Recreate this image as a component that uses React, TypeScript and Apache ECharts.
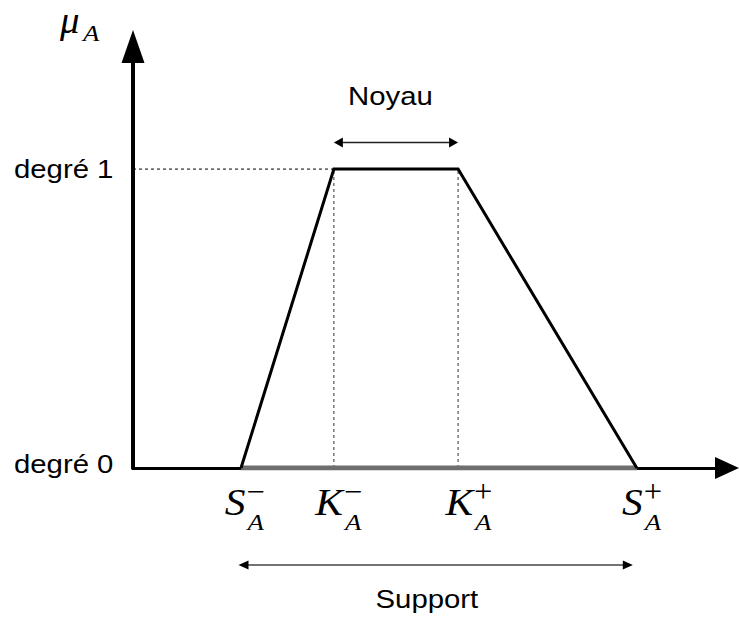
import React, { useEffect, useRef } from 'react';
import * as echarts from 'echarts';

// ---- data ----
const pointNames = ['S', 'K', 'K', 'S'];
const pointSigns = ['−', '−', '+', '+'];
const pointSub = 'A';
const xValues = [2.0, 3.72, 6.02, 9.33];
const yValues = [0, 1, 1, 0];
const xAxisMax = 11;
const yAxisMax = 1.41;
const yTickValues = [0, 1];
const yTickLabels = ['degré 0', 'degré 1'];
const axisTitleMain = 'μ';
const axisTitleSub = 'A';
const coreLabel = 'Noyau';
const supportLabel = 'Support';

// ---- layout / style ----
const W = 739;
const H = 619;
const SANS = "'Liberation Sans', Arial, sans-serif";
const SERIF = "'Liberation Serif', 'Times New Roman', serif";
const SANS_SIZE = 25.5;
const SANS_SCALE = 1.15;
const MATH_SIZE = 37;
const SCRIPT_SIZE = 24;
const SIGN_SIZE = 31;
const MATH_SCALE = 1.12;
const labelDx = [4.5, 9, 15, 6];
const yLabelDy = [-4, 0.5];

function textEl(
  x: number,
  y: number,
  text: string,
  opts: { size: number; family: string; italic?: boolean; align: string; scale: number }
) {
  return {
    type: 'text',
    x,
    y,
    scaleX: opts.scale,
    silent: true,
    style: {
      text,
      fontSize: opts.size,
      fontFamily: opts.family,
      fontStyle: opts.italic ? 'italic' : 'normal',
      fill: '#000',
      align: opts.align,
      textAlign: opts.align,
      verticalAlign: 'middle',
      textVerticalAlign: 'middle',
    },
  };
}

function arrowHead(tipX: number, y: number, dir: number, len: number, half: number) {
  return {
    type: 'polygon',
    silent: true,
    shape: {
      points: [
        [tipX, y],
        [tipX - dir * len, y - half],
        [tipX - dir * len, y + half],
      ],
    },
    style: { fill: '#000' },
  };
}

export default function App() {
  const ref = useRef<HTMLDivElement>(null);

  useEffect(() => {
    if (!ref.current) return;
    const chart = echarts.init(ref.current, null, { renderer: 'svg', width: W, height: H });

    const trapezoid = xValues.map((x, i) => [x, yValues[i]]);

    chart.setOption({
      animation: false,
      backgroundColor: '#fff',
      grid: { left: 133, right: 12, top: 46.5, bottom: 151, containLabel: false },
      xAxis: {
        type: 'value',
        min: 0,
        max: xAxisMax,
        axisLine: {
          show: true,
          onZero: true,
          symbol: ['none', 'triangle'],
          symbolSize: [22, 24],
          lineStyle: { color: '#000', width: 3 },
        },
        axisTick: { show: false },
        axisLabel: { show: false },
        splitLine: { show: false },
      },
      yAxis: {
        type: 'value',
        min: 0,
        max: yAxisMax,
        axisLine: {
          show: true,
          symbol: ['none', 'triangle'],
          symbolSize: [23, 33],
          lineStyle: { color: '#000', width: 4 },
        },
        axisTick: { show: false },
        axisLabel: { show: false },
        splitLine: { show: false },
      },
      series: [
        {
          type: 'line',
          data: [[0, 1], [xValues[1], 1]],
          symbol: 'none',
          z: 1,
          lineStyle: { color: '#000', width: 1, type: [3, 3] },
        },
        {
          type: 'line',
          data: [[xValues[1], 0], [xValues[1], 1]],
          symbol: 'none',
          z: 1,
          lineStyle: { color: '#333', width: 1, type: [3, 3] },
        },
        {
          type: 'line',
          data: [[xValues[2], 0], [xValues[2], 1]],
          symbol: 'none',
          z: 1,
          lineStyle: { color: '#333', width: 1, type: [3, 3] },
        },
        {
          type: 'line',
          data: [[xValues[0], 0], [xValues[3], 0]],
          symbol: 'none',
          z: 2,
          lineStyle: { color: '#6e6e6e', width: 5, cap: 'butt' },
        },
        {
          type: 'line',
          data: trapezoid,
          symbol: 'none',
          z: 3,
          lineStyle: { color: '#000', width: 3, join: 'miter' },
        },
      ],
    });

    const px = (x: number, y: number) =>
      chart.convertToPixel({ gridIndex: 0 }, [x, y]) as number[];

    const origin = px(0, 0);
    const top = px(0, yAxisMax);
    const graphics: any[] = [];

    // axis title mu_A
    graphics.push(
      textEl(top[0] - 73, top[1] - 26, axisTitleMain, {
        size: MATH_SIZE, family: SERIF, italic: true, align: 'left', scale: 1.05,
      })
    );
    graphics.push(
      textEl(top[0] - 50, top[1] - 14, axisTitleSub, {
        size: SCRIPT_SIZE, family: SERIF, italic: true, align: 'left', scale: MATH_SCALE,
      })
    );

    // y tick labels
    yTickValues.forEach((v, i) => {
      const p = px(0, v);
      graphics.push(
        textEl(p[0] - 19.6, p[1] + yLabelDy[i], yTickLabels[i], {
          size: SANS_SIZE, family: SANS, align: 'right', scale: SANS_SCALE,
        })
      );
    });

    // point labels
    xValues.forEach((x, i) => {
      const p = px(x, 0);
      const right = p[0] + labelDx[i];
      graphics.push(
        textEl(right, p[1] + 34.5, pointNames[i], {
          size: MATH_SIZE, family: SERIF, italic: true, align: 'right', scale: MATH_SCALE,
        })
      );
      graphics.push(
        textEl(right + 1, p[1] + 23.5, pointSigns[i], {
          size: SIGN_SIZE, family: SERIF, align: 'left', scale: 1.05,
        })
      );
      graphics.push(
        textEl(right + 2, p[1] + 54, pointSub, {
          size: SCRIPT_SIZE, family: SERIF, italic: true, align: 'left', scale: MATH_SCALE,
        })
      );
    });

    // Noyau arrow
    const k1 = px(xValues[1], 1);
    const k2 = px(xValues[2], 1);
    const ny = k1[1] - 26.5;
    graphics.push({
      type: 'line',
      silent: true,
      shape: { x1: k1[0] + 5, y1: ny, x2: k2[0] - 5, y2: ny },
      style: { stroke: '#222', lineWidth: 1.5 },
    });
    graphics.push(arrowHead(k1[0], ny, -1, 9, 5));
    graphics.push(arrowHead(k2[0], ny, 1, 9, 5));
    graphics.push(
      textEl((k1[0] + k2[0]) / 2 - 5.5, k1[1] - 72.7, coreLabel, {
        size: SANS_SIZE, family: SANS, align: 'center', scale: SANS_SCALE,
      })
    );

    // Support arrow
    const s1 = px(xValues[0], 0);
    const s2 = px(xValues[3], 0);
    const sy = origin[1] + 97;
    const lx = s1[0] - 2.5;
    const rx = s2[0] - 4;
    graphics.push({
      type: 'line',
      silent: true,
      shape: { x1: lx + 5, y1: sy, x2: rx - 5, y2: sy },
      style: { stroke: '#444', lineWidth: 1.5 },
    });
    graphics.push(arrowHead(lx, sy, -1, 10, 4.5));
    graphics.push(arrowHead(rx, sy, 1, 10, 4.5));
    graphics.push(
      textEl((s1[0] + s2[0]) / 2 - 12, origin[1] + 131, supportLabel, {
        size: SANS_SIZE, family: SANS, align: 'center', scale: SANS_SCALE,
      })
    );

    chart.setOption({ graphic: { elements: graphics } });

    return () => {
      chart.dispose();
    };
  }, []);

  return (
    <div
      ref={ref}
      style={{ position: 'absolute', left: 0, top: 0, width: W, height: H, background: '#fff' }}
    />
  );
}
